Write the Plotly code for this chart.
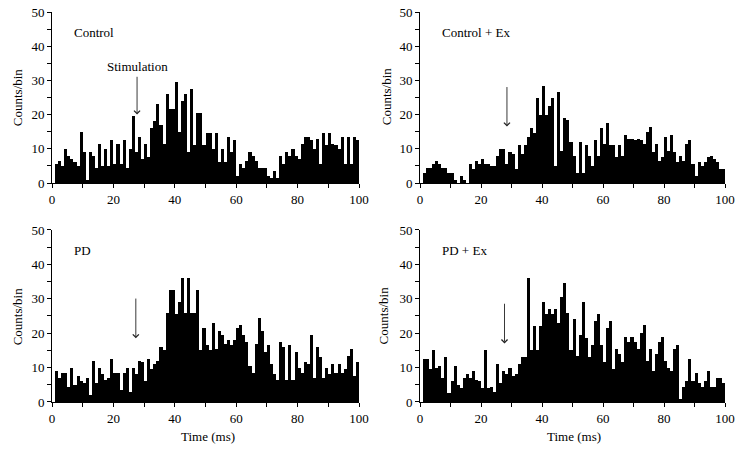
import plotly.graph_objects as go

# ---------------- data ----------------
bin_start = list(range(1, 100))  # 1-ms bins, start time (ms)

control = [
    5.5, 6.5, 5, 10, 8, 7, 6, 5, 15, 9,
    1, 9, 8, 4.5, 11.5, 5, 10, 5, 12.5, 5.5,
    11.5, 5.5, 12.5, 4.5, 10, 19.5, 9, 13.5, 7, 11.5,
    7.5, 16, 18, 23, 17, 11.5, 26, 21.5, 21.5, 29.5,
    15, 24, 26, 9, 27.5, 11, 20.5, 20.5, 11, 14.5,
    14.5, 10, 14.5, 6, 10, 6, 13.5, 9, 12.5, 2,
    5.5, 4.5, 6.5, 9, 8, 6.5, 4.5, 4.5, 4.5, 2,
    1.5, 3.5, 1.5, 8, 5.5, 9, 8, 10, 8, 7,
    11.5, 13.5, 13.5, 12.5, 10, 13, 5.5, 14.5, 11, 14.5,
    11.5, 11, 10, 13.5, 5.5, 13.5, 5.5, 13.5, 12.5,
]

control_ex = [
    3, 4.5, 4.5, 5.5, 6.5, 5.5, 4.5, 4.5, 3, 3,
    1, 0, 2, 1, 0, 5.5, 4, 6.5, 5.5, 7,
    5.5, 5.5, 5, 5, 8, 10, 10, 5.5, 9, 8.5,
    4, 11, 8.5, 11, 13.5, 16, 14.5, 25, 20, 28.5,
    20, 22.5, 25, 5, 26.5, 9.5, 19, 18.5, 12, 8,
    3, 12, 3, 11, 8, 5, 12.5, 8, 16, 11.5,
    17.5, 11, 11, 7.5, 11, 8, 14, 13, 13, 12.5,
    13, 12.5, 11.5, 15, 16.5, 9, 11.5, 6.5, 7.5, 13.5,
    9.5, 14, 9, 6, 8, 6.5, 11.5, 12.5, 5.5, 2,
    6, 5, 6, 7.5, 8, 7, 6, 4, 4,
]

pd_ = [
    9, 7, 8.5, 8.5, 4.5, 10, 5, 7.5, 6, 5.5,
    7, 2, 12, 5.5, 10, 8, 6.5, 7, 12.5, 8.5,
    8.5, 3.5, 8.5, 10, 3, 10, 8, 12, 11.5, 6,
    12.5, 9.5, 11, 12, 16, 15, 26, 32.5, 32.5, 25.5,
    29, 36, 26, 36, 26, 26, 32.5, 15, 21.5, 16.5,
    15, 23, 15.5, 20.5, 19.5, 17, 18, 16.5, 18, 21.5,
    22.5, 19.5, 17.5, 10.5, 8.5, 17, 24.5, 20.5, 14.5, 16.5,
    11, 8, 6.5, 17.5, 16, 6.5, 16.5, 6.5, 14.5, 10,
    8.5, 11.5, 11, 19.5, 7, 16, 13, 7, 10, 8,
    11, 8.5, 11, 8.5, 9.5, 13.5, 15.5, 7.5, 11.5,
]

pd_ex = [
    12.5, 12.5, 9.5, 15, 10, 10.5, 7, 13, 2.5, 6,
    10.5, 5, 4, 7, 8, 7, 9, 6.5, 6, 4,
    15, 4, 4.5, 3, 11, 5.5, 9, 8, 10, 7.5,
    8, 11, 13, 13, 36, 15, 22, 15, 22, 29,
    25.5, 27, 25.5, 27, 23, 30.5, 34.5, 26, 15, 24,
    13.5, 19.5, 29, 18.5, 13, 16.5, 23.5, 25.5, 16.5, 11.5,
    21.5, 23.5, 9.5, 15.5, 14, 11.5, 19, 17.5, 19, 17.5,
    15.5, 20, 22.5, 12, 15.5, 9, 14, 17.5, 19, 12,
    10, 9, 15.5, 16.5, 1, 4.5, 6, 12.5, 6, 8.5,
    5.5, 4.5, 6, 9, 4.5, 4.5, 7, 7, 5.5,
]

series = [control, control_ex, pd_, pd_ex]
panel_titles = ["Control", "Control + Ex", "PD", "PD + Ex"]
stim_time = [27.7, 28.5, 27.3, 27.7]       # arrow position (ms)
arrow_top = [31.5, 28.5, 30.5, 29.0]       # counts
arrow_tip = [20.0, 16.5, 18.5, 17.0]       # counts
x_ticks = [0, 20, 40, 60, 80, 100]
y_ticks = [0, 10, 20, 30, 40, 50]

# ---------------- layout ----------------
FONT = "Liberation Serif, Times New Roman, serif"
W, H = 743, 450
xdom = [[0.0700, 0.4832], [0.5653, 0.9758], [0.0700, 0.4832], [0.5653, 0.9758]]
ydom = [[0.5933, 0.9733], [0.5933, 0.9733], [0.1067, 0.4889], [0.1067, 0.4889]]

fig = go.Figure()
centers = [t + 0.5 for t in bin_start]
for i, vals in enumerate(series):
    s = "" if i == 0 else str(i + 1)
    fig.add_trace(go.Bar(x=centers, y=vals, width=1.0,
                         marker=dict(color="black", line=dict(width=0)),
                         xaxis="x" + s, yaxis="y" + s, showlegend=False,
                         hoverinfo="x+y"))

layout = dict(width=W, height=H, margin=dict(l=0, r=0, t=0, b=0, autoexpand=False),
              plot_bgcolor="white", paper_bgcolor="white", bargap=0,
              font=dict(family=FONT, size=13, color="black"))
annotations = []
for i in range(4):
    s = "" if i == 0 else str(i + 1)
    layout["xaxis" + s] = dict(domain=xdom[i], anchor="y" + s, range=[0, 100],
                               tickvals=x_ticks, ticks="outside", ticklen=4,
                               tickcolor="black", tickwidth=1, showline=True,
                               linecolor="black", linewidth=1, showgrid=False,
                               zeroline=False, fixedrange=True, automargin=False,
                               ticklabeloverflow="allow",
                               tickfont=dict(family=FONT, size=13),
                               minor=dict(dtick=10, tick0=0, ticks="outside",
                                          ticklen=4, tickcolor="black", showgrid=False))
    layout["yaxis" + s] = dict(domain=ydom[i], anchor="x" + s, range=[0, 50],
                               tickvals=y_ticks, ticks="outside", ticklen=4,
                               tickcolor="black", tickwidth=1, showline=True,
                               linecolor="black", linewidth=1, showgrid=False,
                               zeroline=False, fixedrange=True, automargin=False,
                               ticklabeloverflow="allow",
                               tickfont=dict(family=FONT, size=13),
                               minor=dict(dtick=5, tick0=0, ticks="outside",
                                          ticklen=4, tickcolor="black", showgrid=False))
    annotations.append(dict(x=6.5, y=44, xref="x" + s, yref="y" + s,
                            text=panel_titles[i], showarrow=False,
                            xanchor="left", yanchor="middle",
                            font=dict(family=FONT, size=13)))
    annotations.append(dict(x=stim_time[i], y=arrow_tip[i], ax=stim_time[i], ay=arrow_top[i],
                            xref="x" + s, yref="y" + s, axref="x" + s, ayref="y" + s,
                            text="", showarrow=True, arrowhead=4, arrowsize=1.3,
                            arrowwidth=0.9, arrowcolor="#222"))

annotations.append(dict(x=28, y=34, xref="x", yref="y", text="Stimulation",
                        showarrow=False, xanchor="center", yanchor="middle",
                        font=dict(family=FONT, size=13)))

for (xp, yp) in [(0.0229, 0.784), (0.5195, 0.786), (0.0229, 0.297), (0.5160, 0.300)]:
    annotations.append(dict(x=xp, y=yp, xref="paper", yref="paper", text="Counts/bin",
                            textangle=-90, showarrow=False, xanchor="center",
                            yanchor="middle", font=dict(family=FONT, size=13)))
for xp in [0.280, 0.772]:
    annotations.append(dict(x=xp, y=0.029, xref="paper", yref="paper", text="Time (ms)",
                            showarrow=False, xanchor="center", yanchor="middle",
                            font=dict(family=FONT, size=13)))

layout["annotations"] = annotations
fig.update_layout(**layout)
# remove the browser's default 8px body margin so the 743x450 figure fills the window
fig.write_html("out.html", config={"displayModeBar": False},
               post_script="document.body.style.margin='0';")
